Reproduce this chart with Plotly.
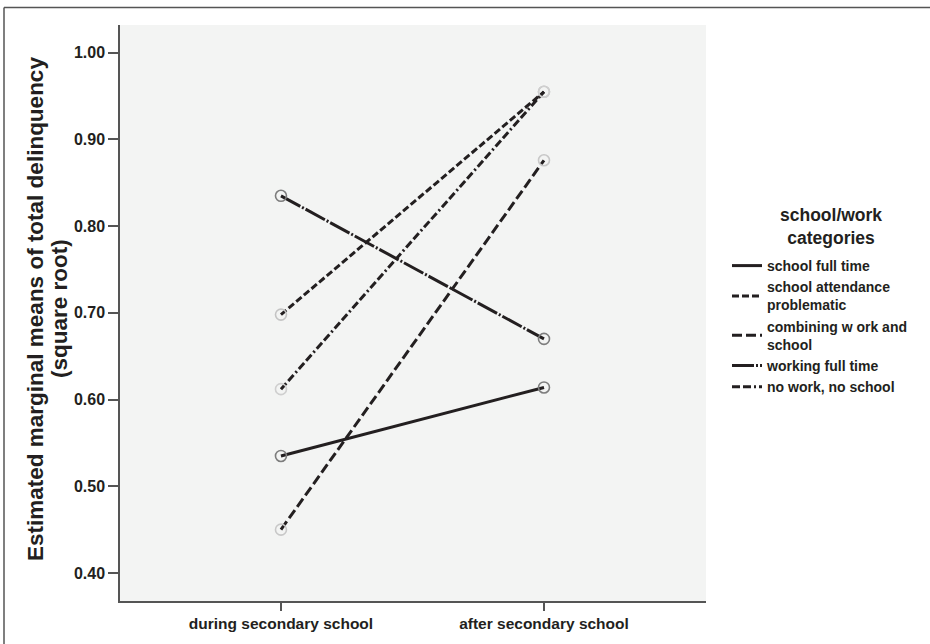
import plotly.graph_objects as go

# Estimated marginal means of total delinquency (square root) by period
periods = ["during secondary school", "after secondary school"]

categories = [
    "school full time",
    "school attendance<br>problematic",
    "combining w ork and<br>school",
    "working full time",
    "no work, no school",
]
means_full_time = [0.535, 0.614]
means_attendance = [0.698, 0.955]
means_combining = [0.450, 0.876]
means_working = [0.835, 0.670]
means_no_work = [0.612, 0.955]

series_values = [means_full_time, means_attendance, means_combining,
                 means_working, means_no_work]
dashes = ["solid", "7px,3px", "10px,4px", "22px,2px,2px,2px", "8px,3px,8px,3px,2px,3px"]
marker_colors = ["#7d7d7d", "#c4c4c4", "#c8c8c8", "#7d7d7d", "#cfcfcf"]

y_ticks = [0.40, 0.50, 0.60, 0.70, 0.80, 0.90, 1.00]
y_title_lines = ["Estimated marginal means of total delinquency", "(square root)"]
legend_title = "school/work<br>categories"

FONT = "Liberation Sans, Arial, Helvetica, sans-serif"
INK = "#231f20"
AXIS = "#555555"

# plot-area geometry in pixels (used for paper-coordinate placement)
L, R, T, B = 120, 706, 25, 601
PW, PH = R - L, B - T


def px_x(px):
    return (px - L) / PW


def px_y(py):
    return (B - py) / PH


fig = go.Figure()

# lines with open-circle markers at each period
for name, vals, dash, mc in zip(categories, series_values, dashes, marker_colors):
    fig.add_trace(go.Scatter(
        x=periods, y=vals, mode="lines+markers",
        line=dict(color=INK, width=3, dash=dash),
        marker=dict(symbol="circle-open", size=11,
                    line=dict(color=mc, width=1.6), color=mc),
        showlegend=False, hoverinfo="skip",
        name=name,
    ))

# legend entries drawn as line samples only
for name, dash in zip(categories, dashes):
    fig.add_trace(go.Scatter(
        x=[None], y=[None], mode="lines",
        line=dict(color=INK, width=3, dash=dash),
        name=name, showlegend=True,
    ))

annotations = [
    dict(text=f"<b>{line}</b>", xref="paper", yref="paper",
         x=px_x(px), y=0.507, xanchor="center", yanchor="middle",
         textangle=-90, showarrow=False,
         font=dict(size=22.5, family=FONT, color=INK))
    for line, px in zip(y_title_lines, [36, 60])
]
annotations.append(dict(
    text=legend_title, xref="paper", yref="paper",
    x=px_x(831), y=px_y(226), xanchor="center", yanchor="middle",
    showarrow=False, align="center",
    font=dict(size=17.5, family=FONT, color=INK, weight="bold"),
))

fig.update_layout(
    width=930, height=644,
    margin=dict(l=L, r=930 - R, t=T, b=644 - B, autoexpand=False),
    paper_bgcolor="white",
    plot_bgcolor="#f3f4f3",
    font=dict(family=FONT, color=INK),
    xaxis=dict(
        type="category", range=[-0.612, 1.616],
        showgrid=False, zeroline=False,
        showline=True, linecolor=AXIS, linewidth=1.5,
        ticks="outside", ticklen=8, tickwidth=1.5, tickcolor=AXIS,
        tickfont=dict(size=15.5, family=FONT, color=INK, weight="bold"),
    ),
    yaxis=dict(
        range=[0.3677, 1.032],
        tickvals=y_ticks, ticktext=[f"{v:.2f}" for v in y_ticks],
        showgrid=False, zeroline=False,
        showline=True, linecolor=AXIS, linewidth=1.5,
        ticks="outside", ticklen=10, tickwidth=1.5, tickcolor=AXIS,
        tickfont=dict(size=16, family=FONT, color=INK, weight="bold"),
    ),
    legend=dict(
        x=px_x(727), xanchor="left", y=px_y(250), yanchor="top",
        bgcolor="rgba(0,0,0,0)",
        font=dict(size=14, family=FONT, color=INK, weight="bold"),
        itemwidth=30, tracegroupgap=0,
    ),
    annotations=annotations,
    shapes=[
        # outer frame: top and left edges
        dict(type="line", xref="paper", yref="paper",
             x0=px_x(4), x1=px_x(940), y0=px_y(7.5), y1=px_y(7.5),
             line=dict(color=AXIS, width=1.5)),
        dict(type="line", xref="paper", yref="paper",
             x0=px_x(4), x1=px_x(4), y0=px_y(7.5), y1=px_y(660),
             line=dict(color=AXIS, width=1.5)),
    ],
)

fig.write_html("out.html")
